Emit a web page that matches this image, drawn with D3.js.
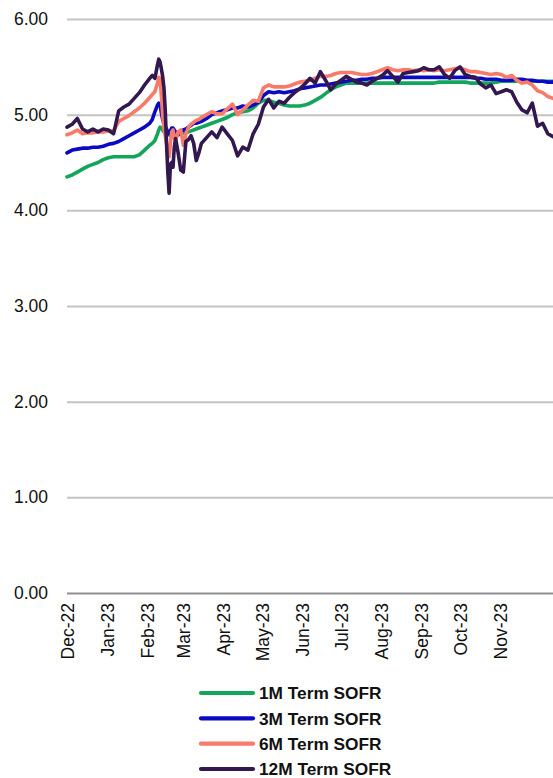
<!DOCTYPE html>
<html>
<head>
<meta charset="utf-8">
<script src="https://cdn.jsdelivr.net/npm/d3@7/dist/d3.min.js"></script>
<style>
  html, body { margin: 0; padding: 0; background: #fff; }
  svg { display: block; font-family: "Liberation Sans", Arial, sans-serif; }
</style>
</head>
<body>
<svg id="chart" width="553" height="778"></svg>
<script>
// Observation dates
const dates = [
  "2022-12-20","2022-12-24","2022-12-28","2023-01-01","2023-01-05","2023-01-09","2023-01-13","2023-01-17",
  "2023-01-21","2023-01-25","2023-01-29","2023-02-02","2023-02-06","2023-02-10","2023-02-14","2023-02-18",
  "2023-02-22","2023-02-24","2023-02-26","2023-02-28","2023-03-01","2023-03-02","2023-03-03","2023-03-04",
  "2023-03-05","2023-03-06","2023-03-07","2023-03-08","2023-03-09","2023-03-10","2023-03-11","2023-03-12",
  "2023-03-13","2023-03-14","2023-03-16","2023-03-18","2023-03-20","2023-03-22","2023-03-24","2023-03-26",
  "2023-03-28","2023-03-30","2023-04-01","2023-04-03","2023-04-07","2023-04-11","2023-04-15","2023-04-19",
  "2023-04-23","2023-04-27","2023-05-01","2023-05-05","2023-05-09","2023-05-13","2023-05-17","2023-05-21",
  "2023-05-25","2023-05-29","2023-06-02","2023-06-06","2023-06-10","2023-06-14","2023-06-18","2023-06-22",
  "2023-06-26","2023-06-30","2023-07-04","2023-07-08","2023-07-12","2023-07-16","2023-07-20","2023-07-24",
  "2023-07-28","2023-08-01","2023-08-05","2023-08-09","2023-08-13","2023-08-17","2023-08-21","2023-08-25",
  "2023-08-29","2023-09-02","2023-09-06","2023-09-10","2023-09-14","2023-09-18","2023-09-22","2023-09-26",
  "2023-09-30","2023-10-04","2023-10-08","2023-10-12","2023-10-16","2023-10-20","2023-10-24","2023-10-28",
  "2023-11-01","2023-11-05","2023-11-09","2023-11-13","2023-11-17","2023-11-21","2023-11-25","2023-11-29",
  "2023-12-03","2023-12-07","2023-12-11","2023-12-15","2023-12-19","2023-12-23","2023-12-27","2023-12-31"
];

// Term SOFR rates (%)
const sofr1M = [
  4.35,4.37,4.40,4.43,4.46,4.48,4.50,4.53, 4.55,4.56,4.56,4.56,4.56,4.56,4.58,4.63,
  4.68,4.70,4.73,4.80,4.84,4.87,4.86,4.84, 4.82,4.81,4.80,4.79,4.79,4.78,4.78,4.79,
  4.79,4.78,4.79,4.80,4.81,4.81,4.82,4.83, 4.84,4.85,4.86,4.87,4.89,4.91,4.93,4.95,
  4.97,5.00,5.02,5.03,5.04,5.07,5.12,5.15, 5.15,5.13,5.12,5.10,5.09,5.09,5.09,5.10,
  5.12,5.15,5.18,5.22,5.26,5.29,5.31,5.33, 5.33,5.33,5.33,5.33,5.33,5.33,5.33,5.33,
  5.33,5.33,5.33,5.33,5.33,5.33,5.33,5.33, 5.33,5.34,5.34,5.34,5.34,5.34,5.34,5.33,
  5.33,5.33,5.33,5.33,5.34,5.35,5.35,5.35, 5.35,5.35,5.35,5.35,5.35,5.35,5.35,5.35
];
const sofr3M = [
  4.60,4.63,4.64,4.65,4.65,4.66,4.66,4.67, 4.69,4.70,4.72,4.75,4.78,4.81,4.84,4.87,
  4.91,4.95,5.03,5.10,5.12,5.11,5.02,4.95, 4.91,4.88,4.85,4.82,4.80,4.83,4.86,4.86,
  4.84,4.82,4.79,4.82,4.84,4.85,4.87,4.89, 4.91,4.91,4.92,4.93,4.96,5.00,5.02,5.04,
  5.05,5.07,5.07,5.09,5.08,5.10,5.13,5.20, 5.24,5.23,5.24,5.23,5.24,5.25,5.27,5.28,
  5.29,5.30,5.31,5.31,5.32,5.33,5.34,5.35, 5.36,5.36,5.37,5.37,5.38,5.38,5.39,5.39,
  5.39,5.39,5.39,5.39,5.39,5.39,5.39,5.39, 5.39,5.39,5.39,5.39,5.39,5.39,5.39,5.39,
  5.38,5.38,5.37,5.37,5.37,5.36,5.36,5.36, 5.37,5.37,5.36,5.36,5.35,5.35,5.34,5.34
];
const sofr6M = [
  4.79,4.81,4.84,4.80,4.81,4.81,4.82,4.82, 4.83,4.83,4.93,4.96,4.99,5.03,5.07,5.12,
  5.18,5.21,5.24,5.33,5.39,5.38,5.20,5.00, 4.85,4.78,4.70,4.62,4.56,4.70,4.82,4.84,
  4.76,4.73,4.82,4.84,4.68,4.80,4.87,4.90, 4.92,4.94,4.95,4.97,5.00,5.03,5.01,5.01,
  5.06,5.11,5.00,5.05,5.10,5.15,5.14,5.28, 5.31,5.29,5.29,5.29,5.30,5.32,5.34,5.35,
  5.36,5.38,5.40,5.40,5.41,5.43,5.44,5.44, 5.44,5.43,5.42,5.42,5.43,5.45,5.47,5.49,
  5.47,5.46,5.47,5.47,5.46,5.47,5.46,5.47, 5.46,5.47,5.46,5.47,5.48,5.49,5.47,5.45,
  5.45,5.44,5.43,5.42,5.43,5.42,5.39,5.41, 5.36,5.33,5.34,5.31,5.25,5.23,5.19,5.17
];
const sofr12M = [
  4.87,4.90,4.96,4.85,4.82,4.85,4.82,4.85, 4.84,4.80,5.04,5.08,5.11,5.17,5.23,5.31,
  5.38,5.41,5.38,5.52,5.58,5.55,5.48,5.40, 5.28,5.05,4.70,4.40,4.18,4.48,4.50,4.45,
  4.66,4.75,4.60,4.42,4.40,4.72,4.74,4.78, 4.70,4.52,4.60,4.70,4.76,4.82,4.76,4.87,
  4.80,4.73,4.57,4.66,4.63,4.80,4.90,5.08, 5.16,5.07,5.14,5.12,5.18,5.23,5.27,5.32,
  5.38,5.33,5.45,5.36,5.26,5.32,5.36,5.40, 5.37,5.34,5.33,5.31,5.35,5.38,5.41,5.46,
  5.40,5.34,5.43,5.44,5.45,5.46,5.49,5.47, 5.47,5.50,5.42,5.38,5.46,5.50,5.42,5.40,
  5.39,5.32,5.28,5.31,5.22,5.24,5.26,5.24, 5.13,5.05,5.02,5.12,4.88,4.91,4.80,4.77
];

const seriesNames = ["1M Term SOFR", "3M Term SOFR", "6M Term SOFR", "12M Term SOFR"];
const seriesColors = ["#12A65A", "#0A0AC2", "#FA7A6A", "#33184F"];
const yTicks = [0, 1, 2, 3, 4, 5, 6];
const xTickDates = [
  "2022-12-20","2023-01-20","2023-02-20","2023-03-20","2023-04-20","2023-05-20",
  "2023-06-20","2023-07-20","2023-08-20","2023-09-20","2023-10-20","2023-11-20"
];

const parse = d3.timeParse("%Y-%m-%d");
const dateObjs = dates.map(parse);
const seriesValues = [sofr1M, sofr3M, sofr6M, sofr12M];

const svg = d3.select("#chart");
const plot = { left: 67, right: 553, top: 19, bottom: 593 };

const x = d3.scaleTime()
  .domain(d3.extent(dateObjs))
  .range([plot.left, plot.right]);
const y = d3.scaleLinear()
  .domain([0, 6])
  .range([plot.bottom, plot.top]);

// Horizontal gridlines and value labels
const yAxis = svg.append("g")
  .attr("transform", `translate(${plot.left},0)`)
  .call(d3.axisLeft(y).tickValues(yTicks).tickFormat(d3.format(".2f"))
    .tickSize(-(plot.right - plot.left)).tickPadding(19));
yAxis.select(".domain").remove();
yAxis.selectAll(".tick line")
  .attr("stroke", d => d === 0 ? "#8f8f8f" : "#c4c4c4")
  .attr("stroke-width", 2);
yAxis.selectAll(".tick text")
  .attr("fill", "#111")
  .style("font-size", "17.5px")
  .style("font-family", "'Liberation Sans', Arial, sans-serif");

// Month labels, rotated
const xAxis = svg.append("g")
  .attr("transform", `translate(0,${plot.bottom})`)
  .call(d3.axisBottom(x).tickValues(xTickDates.map(parse))
    .tickFormat(d3.timeFormat("%b-%y")).tickSize(0));
xAxis.select(".domain").remove();
xAxis.selectAll(".tick text")
  .attr("transform", "rotate(-90)")
  .attr("text-anchor", "end")
  .attr("x", -10)
  .attr("y", 0)
  .attr("dy", "0.36em")
  .attr("fill", "#111")
  .style("font-size", "17.5px")
  .style("font-family", "'Liberation Sans', Arial, sans-serif");

// Rate lines
const line = d3.line()
  .x((d, i) => x(dateObjs[i]))
  .y(d => y(d));

svg.append("g")
  .selectAll("path")
  .data(seriesValues)
  .join("path")
  .attr("d", line)
  .attr("fill", "none")
  .attr("stroke", (d, i) => seriesColors[i])
  .attr("stroke-width", 3.6)
  .attr("stroke-linejoin", "round")
  .attr("stroke-linecap", "round");

// Legend
const legendY = d3.scalePoint()
  .domain(seriesNames)
  .range([693, 769]);
const legend = svg.append("g")
  .selectAll("g")
  .data(seriesNames)
  .join("g")
  .attr("transform", d => `translate(0,${legendY(d)})`);
legend.append("line")
  .attr("x1", 201).attr("x2", 253)
  .attr("stroke", (d, i) => seriesColors[i])
  .attr("stroke-width", 4.2)
  .attr("stroke-linecap", "round");
legend.append("text")
  .attr("x", 259)
  .attr("dy", "0.36em")
  .attr("fill", "#111")
  .style("font-size", "17.3px")
  .style("font-weight", "bold")
  .text(d => d);
</script>
</body>
</html>
